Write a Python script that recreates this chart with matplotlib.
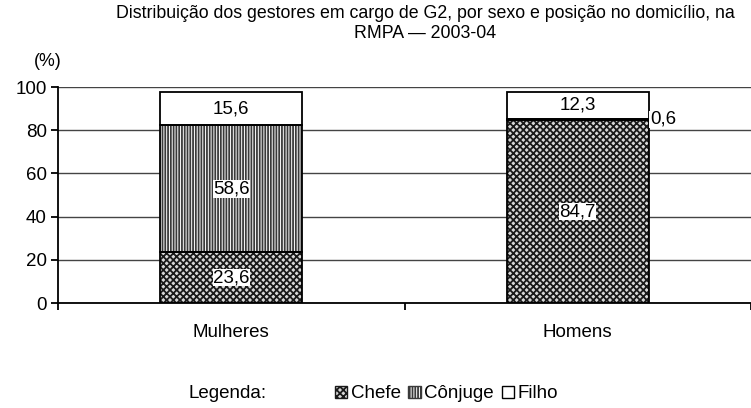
import matplotlib
matplotlib.use('Agg')
import matplotlib.pyplot as plt
from matplotlib.patches import Patch
import numpy as np

plt.rcParams['font.family'] = ['Liberation Sans', 'DejaVu Sans']
plt.rcParams['hatch.linewidth'] = 1.3

sexos = ['Mulheres', 'Homens']
chefe = [23.6, 84.7]
conjuge = [58.6, 0.6]
filho = [15.6, 12.3]

fig = plt.figure(figsize=(7.51, 4.08), dpi=100)
ax = fig.add_axes([58 / 751, 1 - 303 / 408, 1 - 58 / 751, (303 - 87) / 408])

x = np.arange(len(sexos))
w = 0.41
base2 = np.array(chefe)
base3 = base2 + np.array(conjuge)
fs = 13.5

# hatch fills first, then the black outlines on top
ax.bar(x, chefe, w, color='#d8d8d8', edgecolor='#1a1a1a', hatch='xxxxx', linewidth=0, zorder=2)
ax.bar(x, conjuge, w, bottom=base2, color='white', edgecolor='#3a3a3a', hatch='||||||', linewidth=0, zorder=2)
ax.bar(x, filho, w, bottom=base3, color='white', edgecolor='black', linewidth=0, zorder=2)
for vals, bot in [(chefe, 0), (conjuge, base2), (filho, base3)]:
    ax.bar(x, vals, w, bottom=bot, fill=False, edgecolor='black', linewidth=1.3, zorder=3)

box = dict(facecolor='white', edgecolor='none', pad=0.3)
for i in range(len(sexos)):
    ax.text(x[i], chefe[i] / 2, f'{chefe[i]:.1f}'.replace('.', ','), ha='center', va='center',
            fontsize=fs, bbox=box, zorder=4)
    ax.text(x[i], base3[i] + filho[i] / 2, f'{filho[i]:.1f}'.replace('.', ','), ha='center', va='center',
            fontsize=fs, bbox=box, zorder=4)
    if conjuge[i] > 5:
        ax.text(x[i], base2[i] + conjuge[i] / 2, f'{conjuge[i]:.1f}'.replace('.', ','), ha='center',
                va='center', fontsize=fs, bbox=box, zorder=4)
    else:
        ax.text(x[i] + w / 2 + 0.003, base2[i] + conjuge[i] / 2, f'{conjuge[i]:.1f}'.replace('.', ','),
                ha='left', va='center', fontsize=fs, bbox=box, zorder=4)

ax.set_xlim(-0.5, 1.5)
ax.set_ylim(0, 100)
ax.set_yticks(range(0, 101, 20))
ax.yaxis.grid(True, color='#444444', linewidth=1)
ax.set_axisbelow(True)
ax.set_xticks(x)
ax.set_xticklabels(sexos, fontsize=fs)
ax.set_xticks([-0.5, 0.5, 1.5], minor=True)
ax.tick_params(axis='x', which='major', length=0, pad=15)
ax.tick_params(axis='x', which='minor', length=5, width=1.3, direction='out')
ax.tick_params(axis='y', length=5, width=1.3, direction='out', labelsize=fs, pad=3)
for s in ['top', 'right']:
    ax.spines[s].set_visible(False)
for s in ['left', 'bottom']:
    ax.spines[s].set_linewidth(1.3)

fig.text(425 / 751, 1 - 13 / 408, 'Distribuição dos gestores em cargo de G2, por sexo e posição no domicílio, na',
         ha='center', va='center', fontsize=12.8)
fig.text(425 / 751, 1 - 34 / 408, 'RMPA — 2003-04', ha='center', va='center', fontsize=12.8)
fig.text(48 / 751, 1 - 62 / 408, '(%)', ha='center', va='center', fontsize=12.8)

fig.text(228 / 751, 1 - 394 / 408, 'Legenda:', ha='center', va='center', fontsize=fs)
handles = [Patch(facecolor='#d8d8d8', edgecolor='#1a1a1a', hatch='xxxxx', label='Chefe'),
           Patch(facecolor='white', edgecolor='#3a3a3a', hatch='||||||', label='Cônjuge'),
           Patch(facecolor='white', edgecolor='black', label='Filho')]
fig.legend(handles=handles, loc='center left', bbox_to_anchor=(335 / 751, 1 - 394 / 408), ncol=3,
           frameon=False, fontsize=fs, handlelength=0.65, handleheight=0.65, handletextpad=0.2,
           columnspacing=0.4, borderpad=0, borderaxespad=0)

fig.savefig('out.png', dpi=100)
